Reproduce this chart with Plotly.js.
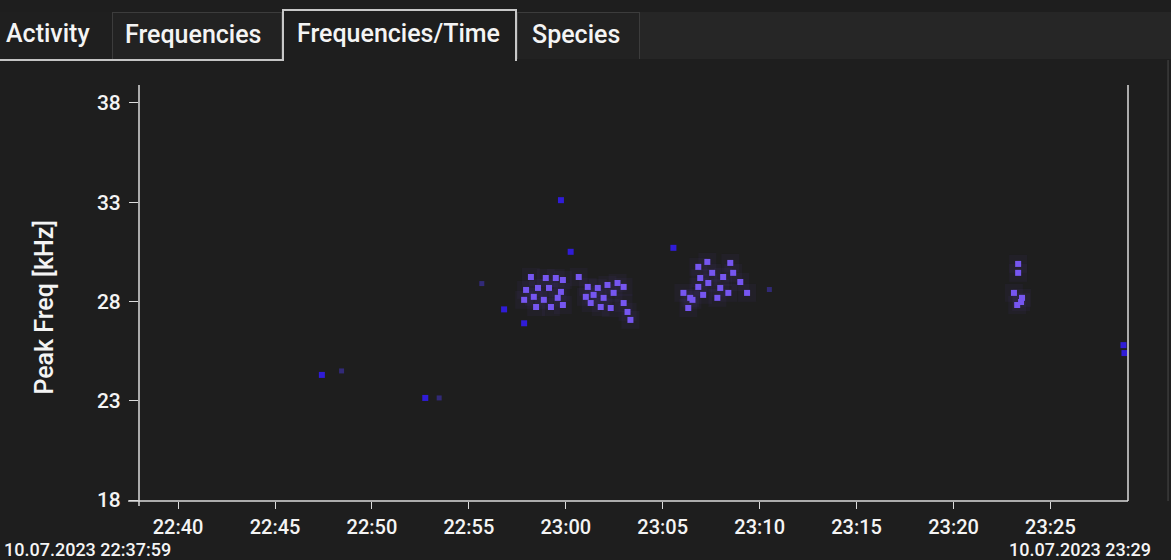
<!DOCTYPE html>
<html>
<head>
<meta charset="utf-8">
<script src="https://cdn.plot.ly/plotly-3.0.1.min.js"></script>
<style>
  html, body { margin:0; padding:0; background:#1e1e1e; width:1171px; height:560px; overflow:hidden; }
  #chart { position:absolute; left:0; top:0; width:1171px; height:560px; }
  .tab { position:absolute; top:12px; height:49px; color:#f4f4f4; font-family:Roboto, "Open Sans", sans-serif; font-weight:500; font-size:25px; line-height:44px; box-sizing:border-box; white-space:nowrap; }
</style>
</head>
<body>
<div id="chart"></div>
<div id="tabs"></div>
<script>
// ---- data ----
const dateStr = '2023-07-10';
const tabLabels = ['Activity', 'Frequencies', 'Frequencies/Time', 'Species'];
const yTickVals = [18, 23, 28, 33, 38];
const startLabel = '10.07.2023 22:37:59';
const endLabel = '10.07.2023 23:29';

const purpleTimes = [
  '22:58:12','22:58:58','22:59:29','22:59:51','22:57:57','22:58:34','22:59:08','22:59:45',
  '22:57:51','22:58:21','22:58:52','22:59:35','22:58:28','22:59:14','22:59:51',
  '23:00:40','23:01:08','23:01:39','23:02:09','23:02:40','23:02:59','23:01:02','23:01:26',
  '23:01:57','23:02:28','23:02:59','23:01:48','23:02:19','23:03:11','23:03:20','23:01:17',
  '23:06:50','23:07:18','23:07:33','23:06:56','23:08:29','23:08:38','23:08:07','23:09:00',
  '23:06:50','23:07:21','23:07:58','23:06:04','23:06:32','23:07:05','23:07:49','23:08:23',
  '23:09:21','23:06:19','23:06:25',
  '23:23:20','23:23:20','23:23:07','23:23:29','23:23:32','23:23:17'
];
const purpleFreqs = [
  29.23,29.18,29.18,29.08,28.58,28.68,28.68,28.48,
  28.08,28.23,28.08,28.18,27.72,27.72,27.82,
  29.23,28.73,28.68,28.83,28.93,28.73,28.23,28.33,
  28.18,28.43,27.92,27.72,27.67,27.47,27.07,27.92,
  29.74,29.99,29.44,29.18,29.94,29.44,29.23,28.98,
  28.73,28.93,28.68,28.43,28.08,28.33,28.18,28.43,
  28.43,27.67,28.18,
  29.89,29.44,28.43,27.97,28.18,27.82
];
const blueTimes = ['22:47:25','22:52:45','22:59:45','23:00:15','23:05:33','22:56:49','22:57:51','23:28:46','23:28:49'];
const blueFreqs = [24.30,23.14,33.1,30.5,30.7,27.6,26.9,25.8,25.4];
const faintTimes = ['22:48:26','22:53:28','22:55:40','23:10:30'];
const faintFreqs = [24.5,23.14,28.9,28.6];

const toDate = arr => arr.map(t => dateStr + ' ' + t);

const traces = [
  {x: toDate(purpleTimes), y: purpleFreqs, type:'scatter', mode:'markers', hoverinfo:'skip',
   marker:{symbol:'square', size:18, color:'rgba(110,60,200,0.06)', line:{width:0}}},
  {x: toDate(faintTimes), y: faintFreqs, type:'scatter', mode:'markers', hoverinfo:'skip',
   marker:{symbol:'square', size:5, color:'rgb(50,42,120)', line:{width:0}}},
  {x: toDate(blueTimes), y: blueFreqs, type:'scatter', mode:'markers',
   marker:{symbol:'square', size:6, color:'rgb(48,28,215)', line:{width:0}}},
  {x: toDate(purpleTimes), y: purpleFreqs, type:'scatter', mode:'markers',
   marker:{symbol:'square', size:6, color:'rgb(118,86,240)', line:{width:0}}}
];

const axisCol = '#dcdcdc';
const fontFam = 'Roboto, "Open Sans", sans-serif';
const layout = {
  width:1171, height:560,
  paper_bgcolor:'#1e1e1e', plot_bgcolor:'#1e1e1e',
  showlegend:false,
  margin:{l:139, r:43, t:85, b:59, pad:0},
  font:{family:fontFam, color:'#f4f4f4', size:20, weight:500},
  xaxis:{
    type:'date', range:[dateStr+' 22:37:59', dateStr+' 23:29:00'],
    tick0:dateStr+' 22:40:00', dtick:300000, tickformat:'%H:%M',
    showgrid:false, zeroline:false, showline:false,
    ticks:'outside', ticklen:7, tickwidth:1, tickcolor:axisCol,
    tickfont:{family:fontFam, size:20, color:'#f4f4f4', weight:500}, ticklabelstandoff:1
  },
  yaxis:{
    range:[17.95, 38.9], tickvals:yTickVals, ticktext:yTickVals.map(String),
    showgrid:false, zeroline:false, showline:false,
    ticks:'outside', ticklen:9, tickwidth:1, tickcolor:axisCol,
    tickfont:{family:fontFam, size:21, color:'#f4f4f4', weight:500}, ticklabelstandoff:4
  },
  shapes:[
    {type:'line', xref:'paper', yref:'paper', x0:0, x1:0, y0:-0.012, y1:1, line:{color:axisCol, width:1.5}},
    {type:'line', xref:'paper', yref:'paper', x0:-0.011, x1:1, y0:0, y1:0, line:{color:axisCol, width:1.5}},
    {type:'line', xref:'paper', yref:'paper', x0:1, x1:1, y0:0, y1:1, line:{color:axisCol, width:1.5}},
    {type:'line', xref:'paper', yref:'paper', x0:1.0405, x1:1.0405, y0:0, y1:1.06, line:{color:'#4a4a4a', width:1}}
  ],
  annotations:[
    {text:'Peak Freq [kHz]', xref:'paper', yref:'paper', x:-0.095, y:0.465, textangle:-90, showarrow:false,
     font:{family:fontFam, size:25, color:'#f4f4f4', weight:500}, xanchor:'center', yanchor:'middle'},
    {text:startLabel, xref:'paper', yref:'paper', x:-0.139, y:-0.117, showarrow:false, xanchor:'left', yanchor:'middle',
     font:{family:fontFam, size:18, color:'#f4f4f4', weight:500}},
    {text:endLabel, xref:'paper', yref:'paper', x:0.8775, y:-0.117, showarrow:false, xanchor:'left', yanchor:'middle',
     font:{family:fontFam, size:18, color:'#f4f4f4', weight:500}}
  ]
};

Plotly.newPlot('chart', traces, layout, {staticPlot:true, displayModeBar:false});

// ---- tab strip ----
const tabBoxes = [[0,112],[112,282],[282,517],[517,640]];
const tabPad = [6, 12, 13, 14];
const tabsDiv = document.getElementById('tabs');
const strip = document.createElement('div');
strip.style.cssText = 'position:absolute;left:640px;top:12px;width:531px;height:47px;background:#262626;';
tabsDiv.appendChild(strip);
const under1 = document.createElement('div');
under1.style.cssText = 'position:absolute;left:0;top:59px;width:283px;height:2px;background:#c4c4c4;';
tabsDiv.appendChild(under1);
tabLabels.forEach((lab, i) => {
  const d = document.createElement('div');
  d.className = 'tab';
  const [a, b] = tabBoxes[i];
  d.style.left = a + 'px';
  d.style.width = (b - a) + 'px';
  d.style.paddingLeft = tabPad[i] + 'px';
  if (i === 2) {
    d.style.top = '9px'; d.style.height = '52px';
    d.style.border = '2px solid #c8c8c8'; d.style.borderBottom = 'none';
    d.style.background = '#1e1e1e'; d.style.lineHeight = '46px';
  } else if (i === 0) {
    d.style.background = '#1f1f1f';
    d.style.height = '47px';
  } else {
    d.style.background = '#222222';
    d.style.height = '47px';
    d.style.border = '1px solid #3c3c3c'; d.style.borderBottom = 'none';
  }
  d.textContent = lab;
  tabsDiv.appendChild(d);
});
</script>
</body>
</html>
